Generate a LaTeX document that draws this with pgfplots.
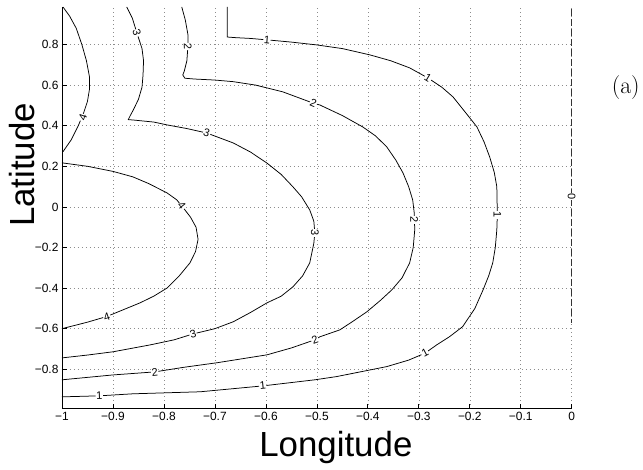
\documentclass[border=0pt]{standalone}
\usepackage{fontspec}
\newfontfamily\hsans{Liberation Sans}
\usepackage{pgfplots}
\pgfplotsset{compat=1.18}
\begin{document}
\begin{tikzpicture}[lab/.style={fill=white, inner sep=0.6bp, font=\hsans\fontsize{11}{11}\selectfont}]
\begin{axis}[name=ax, scale only axis, width=510bp, height=402bp,
  xmin=-1, xmax=0, ymin=-0.995, ymax=0.985,
  axis lines*=left,
  axis line style={-, line width=0.9bp},
  every outer x axis line/.append style={-},
  every outer y axis line/.append style={-},
  xtick={-1,-0.9,-0.8,-0.7,-0.6,-0.5,-0.4,-0.3,-0.2,-0.1,0},
  xticklabels={−1,−0.9,−0.8,−0.7,−0.6,−0.5,−0.4,−0.3,−0.2,−0.1,0},
  ytick={-0.8,-0.6,-0.4,-0.2,0,0.2,0.4,0.6,0.8},
  yticklabels={−0.8,−0.6,−0.4,−0.2,0,0.2,0.4,0.6,0.8},
  tick align=inside, major tick length=5bp,
  tick style={black, line width=0.7bp},
  grid=major, major grid style={gray!90, line width=0.6bp, dash pattern=on 0.8bp off 3.2bp},
  ticklabel style={font=\hsans\fontsize{12}{12}\selectfont},
  clip=false,
]
% contour 4 (upper)
\addplot[black, line width=0.75bp] coordinates {(-0.998,0.985)(-0.985,0.94)(-0.972,0.88)(-0.961,0.80)(-0.952,0.72)(-0.946,0.64)(-0.946,0.58)(-0.950,0.52)(-0.958,0.46)(-0.968,0.40)(-0.982,0.33)(-0.998,0.272)};
% contour 4 (lower)
\addplot[black, line width=0.75bp] coordinates {(-1,0.217)(-0.95,0.20)(-0.90,0.175)(-0.861,0.148)(-0.83,0.115)(-0.794,0.069)(-0.775,0.035)(-0.765,0.005)(-0.748,-0.05)(-0.737,-0.10)(-0.733,-0.16)(-0.738,-0.22)(-0.749,-0.276)(-0.77,-0.34)(-0.794,-0.40)(-0.82,-0.44)(-0.847,-0.473)(-0.88,-0.507)(-0.912,-0.54)(-0.95,-0.568)(-1,-0.60)};
% contour 3
\addplot[black, line width=0.75bp] coordinates {(-0.873,0.985)(-0.862,0.93)(-0.853,0.857)(-0.843,0.78)(-0.840,0.72)(-0.841,0.65)(-0.843,0.59)(-0.85,0.53)(-0.86,0.478)(-0.866,0.45)(-0.87,0.43)(-0.86,0.428)(-0.82,0.418)(-0.794,0.404)(-0.755,0.386)(-0.716,0.364)(-0.664,0.315)(-0.63,0.27)(-0.598,0.216)(-0.57,0.16)(-0.547,0.099)(-0.53,0.05)(-0.514,-0.015)(-0.506,-0.07)(-0.504,-0.128)(-0.506,-0.18)(-0.514,-0.276)(-0.528,-0.34)(-0.547,-0.394)(-0.57,-0.44)(-0.598,-0.473)(-0.63,-0.52)(-0.664,-0.566)(-0.70,-0.60)(-0.743,-0.626)(-0.78,-0.655)(-0.827,-0.68)(-0.9,-0.714)(-0.95,-0.73)(-1,-0.744)};
% contour 2
\addplot[black, line width=0.75bp] coordinates {(-0.765,0.985)(-0.758,0.92)(-0.753,0.85)(-0.753,0.79)(-0.755,0.72)(-0.760,0.67)(-0.763,0.65)(-0.759,0.634)(-0.74,0.630)(-0.70,0.625)(-0.664,0.617)(-0.62,0.60)(-0.567,0.567)(-0.507,0.511)(-0.494,0.502)(-0.45,0.45)(-0.41,0.394)(-0.385,0.35)(-0.363,0.296)(-0.345,0.23)(-0.331,0.167)(-0.32,0.10)(-0.312,0.034)(-0.309,-0.03)(-0.308,-0.113)(-0.311,-0.20)(-0.318,-0.276)(-0.333,-0.35)(-0.353,-0.409)(-0.375,-0.46)(-0.402,-0.517)(-0.43,-0.565)(-0.455,-0.606)(-0.494,-0.64)(-0.504,-0.655)(-0.55,-0.695)(-0.598,-0.729)(-0.696,-0.768)(-0.76,-0.79)(-0.818,-0.813)(-0.9,-0.828)(-1,-0.852)};
% contour 1
\addplot[black, line width=0.75bp] coordinates {(-0.676,0.985)(-0.676,0.90)(-0.676,0.837)(-0.66,0.834)(-0.63,0.830)(-0.598,0.823)(-0.55,0.812)(-0.50,0.798)(-0.45,0.78)(-0.396,0.749)(-0.355,0.72)(-0.318,0.685)(-0.282,0.635)(-0.255,0.59)(-0.233,0.542)(-0.21,0.47)(-0.186,0.394)(-0.172,0.32)(-0.161,0.246)(-0.152,0.17)(-0.147,0.099)(-0.146,-0.04)(-0.147,-0.113)(-0.150,-0.20)(-0.155,-0.276)(-0.163,-0.34)(-0.174,-0.409)(-0.19,-0.50)(-0.214,-0.59)(-0.24,-0.64)(-0.265,-0.68)(-0.288,-0.721)(-0.32,-0.755)(-0.363,-0.787)(-0.461,-0.836)(-0.504,-0.852)(-0.606,-0.882)(-0.729,-0.911)(-0.861,-0.921)(-0.927,-0.931)(-1,-0.936)};
% contour 0
\addplot[black!80, line width=1.1bp, dash pattern=on 7bp off 3bp] coordinates {(0,0.975)(0,-0.57)};
% contour labels
\node[lab, rotate=70]  at (axis cs:-0.959,0.44) {4};
\node[lab, rotate=-51] at (axis cs:-0.765,0.005) {4};
\node[lab, rotate=19]  at (axis cs:-0.912,-0.54) {4};
\node[lab, rotate=-75] at (axis cs:-0.853,0.857) {3};
\node[lab, rotate=-17] at (axis cs:-0.716,0.364) {3};
\node[lab, rotate=-90] at (axis cs:-0.504,-0.128) {3};
\node[lab, rotate=15]  at (axis cs:-0.743,-0.626) {3};
\node[lab, rotate=-88] at (axis cs:-0.753,0.79) {2};
\node[lab, rotate=-22] at (axis cs:-0.507,0.511) {2};
\node[lab, rotate=-90] at (axis cs:-0.309,-0.064) {2};
\node[lab, rotate=20]  at (axis cs:-0.504,-0.655) {2};
\node[lab, rotate=6]   at (axis cs:-0.818,-0.813) {2};
\node[lab, rotate=-5]  at (axis cs:-0.598,0.823) {1};
\node[lab, rotate=-31] at (axis cs:-0.282,0.635) {1};
\node[lab, rotate=-90] at (axis cs:-0.146,-0.04) {1};
\node[lab, rotate=28]  at (axis cs:-0.288,-0.721) {1};
\node[lab, rotate=6]   at (axis cs:-0.606,-0.882) {1};
\node[lab, rotate=2]   at (axis cs:-0.927,-0.931) {1};
\node[lab, rotate=-90] at (axis cs:0,0.05) {0};
\end{axis}
\node[font=\hsans\fontsize{35}{35}\selectfont, rotate=90] at ([shift={(-39.5bp,244bp)}]ax.south west) {Latitude};
\node[font=\hsans\fontsize{35}{35}\selectfont, anchor=base] at ([shift={(274bp,-48bp)}]ax.south west) {Longitude};
\node[font=\fontsize{24}{24}\selectfont] at ([shift={(564bp,321bp)}]ax.south west) {(a)};
\path (ax.south west) ++(-62bp,-61bp) rectangle ++(643bp,470bp);
\end{tikzpicture}
\end{document}
